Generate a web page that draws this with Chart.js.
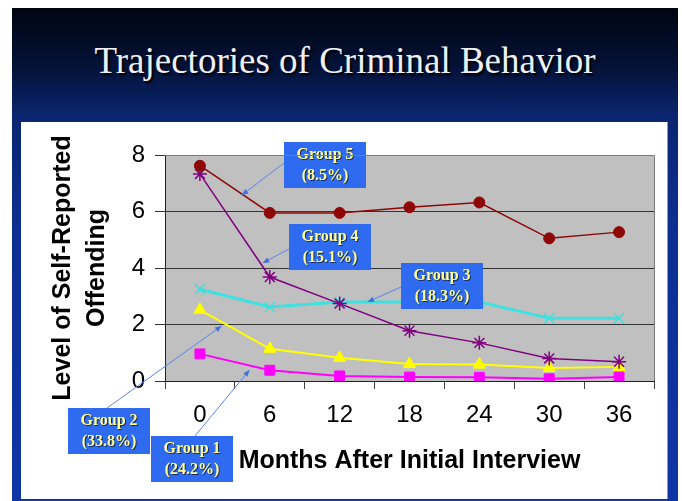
<!DOCTYPE html>
<html>
<head>
<meta charset="utf-8">
<script src="https://cdn.jsdelivr.net/npm/chart.js@4/dist/chart.umd.min.js"></script>
<style>
  html, body { margin: 0; padding: 0; background: #fff; }
  body { width: 682px; height: 501px; position: relative; overflow: hidden; }
  #slide {
    position: absolute; left: 12px; top: 8px; width: 666px; height: 493px;
    background: linear-gradient(to bottom, #000510 0%, #041238 12%, #0a2670 22%, #0d2f92 45%, #1036a6 100%);
  }
  #title {
    position: absolute; left: 0; top: 31px; width: 666px; text-align: center;
    font-family: "Liberation Serif", "Times New Roman", serif; font-size: 37px;
    color: #eef0f8; text-shadow: 2px 2px 2px #000;
  }
  #panel {
    position: absolute; left: 21px; top: 122px; width: 646px; height: 377px;
    background: #fff; box-shadow: 1px 0 0 #9a9a9a;
  }
  canvas { display: block; }
</style>
</head>
<body>
<div id="slide"><div id="title">Trajectories of Criminal Behavior</div></div>
<div id="panel"><canvas id="chart" width="646" height="377"></canvas></div>
<script>
// months after the initial interview
let months = ['0', '6', '12', '18', '24', '30', '36'];

// mean level of self-reported offending per trajectory group
let group1 = [0.96, 0.38, 0.18, 0.14, 0.13, 0.08, 0.14];
let group2 = [2.52, 1.14, 0.82, 0.6, 0.58, 0.46, 0.5];
let group3 = [3.25, 2.62, 2.8, 2.8, 2.8, 2.22, 2.22];
let group4 = [7.33, 3.68, 2.74, 1.78, 1.35, 0.8, 0.68];
let group5 = [7.62, 5.95, 5.95, 6.15, 6.32, 5.05, 5.27];

// callout texts and where each arrow points (category index, value)
let calloutNames = ['Group 1', 'Group 2', 'Group 3', 'Group 4', 'Group 5'];
let calloutShares = ['(24.2%)', '(33.8%)', '(18.3%)', '(15.1%)', '(8.5%)'];
let calloutAtX = [0.71, 0.31, 2.4, 0.9, 0.6];
let calloutAtY = [0.39, 1.95, 2.8, 4.18, 6.58];

// box placement in canvas pixels, and the point of the box the arrow leaves from
let calloutBoxes = [
    {x: 130, y: 314, ax: 44, ay: 0},
    {x: 47, y: 286, ax: 39, ay: 0},
    {x: 380, y: 141, ax: 0, ay: 24},
    {x: 268, y: 102, ax: 0, ay: 25},
    {x: 263, y: 20, ax: 0, ay: 21}
];
const BOX_W = 82, BOX_H = 46;

Chart.defaults.font.family = '"Liberation Sans", Arial, sans-serif';
Chart.defaults.color = '#000';

const plotBackground = {
    id: 'plotBackground',
    beforeDraw(chart) {
        const {ctx, chartArea: a} = chart;
        ctx.save();
        ctx.fillStyle = '#c0c0c0';
        ctx.fillRect(a.left, a.top, a.right - a.left, a.bottom - a.top);
        ctx.restore();
    },
    afterDraw(chart) {
        const {ctx, chartArea: a} = chart;
        ctx.save();
        ctx.strokeStyle = '#7a7a7a';
        ctx.lineWidth = 1;
        ctx.beginPath();
        ctx.moveTo(a.left, a.top + 0.5);
        ctx.lineTo(a.right + 0.5, a.top + 0.5);
        ctx.lineTo(a.right + 0.5, a.bottom);
        ctx.stroke();
        ctx.restore();
    }
};

const callouts = {
    id: 'callouts',
    afterDatasetsDraw(chart) {
        const ctx = chart.ctx;
        const xs = chart.scales.x, ys = chart.scales.y;
        ctx.save();
        for (let i = 0; i < calloutNames.length; i++) {
            const b = calloutBoxes[i];
            const sx = b.x + b.ax, sy = b.y + b.ay;
            const tx = xs.getPixelForValue(calloutAtX[i]);
            const ty = ys.getPixelForValue(calloutAtY[i]);
            // arrow
            ctx.strokeStyle = '#5b84e6';
            ctx.fillStyle = '#3f6fe0';
            ctx.lineWidth = 1;
            ctx.beginPath();
            ctx.moveTo(sx, sy);
            ctx.lineTo(tx, ty);
            ctx.stroke();
            const ang = Math.atan2(ty - sy, tx - sx);
            ctx.beginPath();
            ctx.moveTo(tx, ty);
            ctx.lineTo(tx - 7 * Math.cos(ang - 0.4), ty - 7 * Math.sin(ang - 0.4));
            ctx.lineTo(tx - 7 * Math.cos(ang + 0.4), ty - 7 * Math.sin(ang + 0.4));
            ctx.closePath();
            ctx.fill();
            // box
            ctx.fillStyle = '#2f6bf0';
            ctx.fillRect(b.x, b.y, BOX_W, BOX_H);
            ctx.font = 'bold 16px "Liberation Serif", "Times New Roman", serif';
            ctx.textAlign = 'center';
            ctx.textBaseline = 'middle';
            const cx = b.x + BOX_W / 2, cy = b.y + BOX_H / 2;
            ctx.fillStyle = '#1a2a55';
            ctx.fillText(calloutNames[i], cx + 1, cy - 10 + 1);
            ctx.fillText(calloutShares[i], cx + 1, cy + 11 + 1);
            ctx.fillStyle = '#ffff99';
            ctx.fillText(calloutNames[i], cx, cy - 10);
            ctx.fillText(calloutShares[i], cx, cy + 11);
        }
        ctx.restore();
    }
};

function series(data, color, style, radius, width) {
    return {
        data: data,
        borderColor: color,
        backgroundColor: color,
        pointBackgroundColor: color,
        pointBorderColor: color,
        pointStyle: style,
        pointRadius: radius,
        pointBorderWidth: style === 'star' || style === 'crossRot' ? 1.5 : 1,
        borderWidth: width,
        tension: 0,
        fill: false
    };
}

new Chart(document.getElementById('chart'), {
    type: 'line',
    data: {
        labels: months,
        datasets: [
            series(group5, '#8e0606', 'circle', 5.5, 1.5),
            series(group4, '#800080', 'star', 7, 1.5),
            series(group3, '#3ee0e0', 'crossRot', 7, 3),
            series(group2, '#ffff00', 'triangle', 7, 2),
            series(group1, '#ff00ff', 'rect', 7, 2)
        ]
    },
    options: {
        responsive: false,
        devicePixelRatio: 1,
        animation: false,
        events: [],
        layout: { padding: { left: 0, right: 13, top: 33, bottom: 0 } },
        plugins: {
            legend: { display: false },
            tooltip: { enabled: false }
        },
        scales: {
            x: {
                offset: true,
                grid: { offset: true, drawOnChartArea: false, drawTicks: true, tickLength: 8, color: '#404040' },
                border: { display: true, color: '#202020' },
                ticks: { font: { size: 24 }, padding: 12, maxRotation: 0 },
                title: {
                    display: true,
                    text: 'Months After Initial Interview',
                    font: { size: 25, weight: 'bold' },
                    padding: { top: 0, bottom: 23 }
                },
                afterFit(scale) { scale.height = 118; }
            },
            y: {
                min: 0,
                max: 8,
                ticks: { stepSize: 2, font: { size: 24 }, padding: 10 },
                grid: { color: '#333', tickLength: 10, lineWidth: 1 },
                border: { display: true, color: '#202020' },
                title: {
                    display: true,
                    text: ['Level of Self-Reported', 'Offending'],
                    font: { size: 25, weight: 'bold', lineHeight: 1.35 },
                    padding: { top: 25, bottom: 0 }
                },
                afterFit(scale) { scale.width = 144; }
            }
        }
    },
    plugins: [plotBackground, callouts]
});
</script>
</body>
</html>
